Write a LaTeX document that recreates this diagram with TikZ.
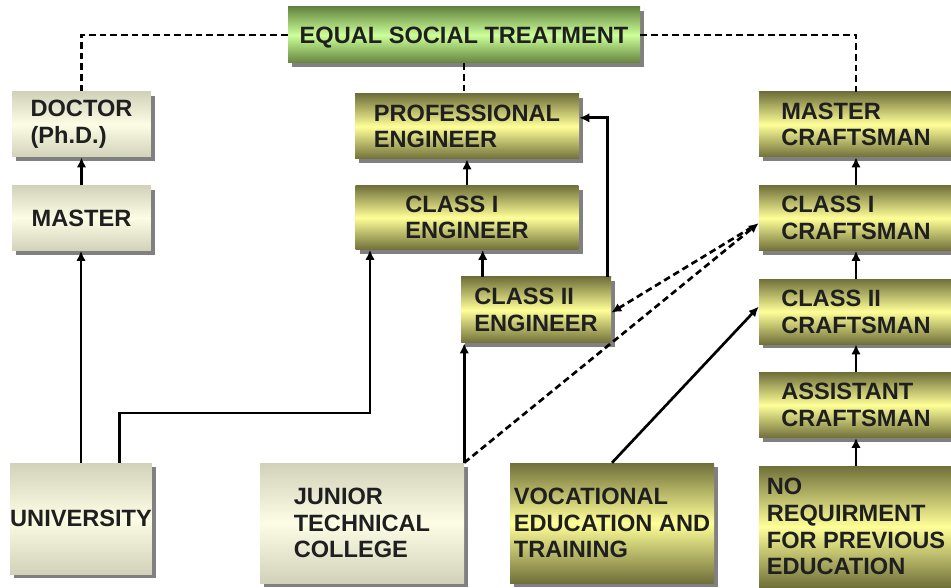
\documentclass[tikz,border=0pt]{standalone}
\usepackage{fontspec}
\setmainfont{Liberation Sans}
\usetikzlibrary{shadows,positioning,arrows.meta}
\definecolor{beigedark}{RGB}{210,209,186}
\definecolor{beigelight}{RGB}{253,253,230}
\definecolor{olivedark}{RGB}{112,112,58}
\definecolor{olivelight}{RGB}{255,255,152}
\definecolor{greendark}{RGB}{100,132,62}
\definecolor{greenlight}{RGB}{204,255,153}
\tikzstyle{block}=[inner xsep=2pt, align=left, text=black!88, font=\fontsize{17.7}{20}\selectfont\bfseries, drop shadow={shadow xshift=3.2pt,shadow yshift=-3.2pt,fill=black!50,opacity=1}]
\tikzstyle{plainbox}=[block, top color=beigedark, bottom color=beigedark, middle color=beigelight]
\tikzstyle{olivebox}=[block, top color=olivedark, bottom color=olivedark, middle color=olivelight]
\tikzstyle{greenbox}=[block, top color=greendark, bottom color=greendark, middle color=greenlight]
\tikzstyle{arrow}=[line width=2pt,-{Latex[length=7.5pt,width=7pt]}]
\tikzstyle{dashline}=[line width=2pt,dash pattern=on 5pt off 3pt]

\begin{document}
\begin{tikzpicture}[x=0.75pt,y=-0.75pt,node distance=21pt]
    \useasboundingbox (0,0) rectangle (951,588);
    % top
    \node (eq) [greenbox,minimum width=264pt,minimum height=42pt,text depth=1pt] at (464,35) {\raisebox{-2pt}{EQUAL SOCIAL TREATMENT}};
    % academic column
    \node (doctor) [plainbox,minimum width=104pt,minimum height=48.75pt] at (81.5,124.5) {DOCTOR\\(Ph.D.)};
    \node (master) [plainbox,minimum width=104pt,minimum height=48.75pt,below=of doctor] {MASTER};
    \node (univ) [plainbox,inner xsep=0pt,minimum width=105pt,minimum height=83.25pt] at (81,518.5) {UNIVERSITY};
    % engineer column
    \node (prof) [olivebox,minimum width=168pt,minimum height=48.75pt] at (467,126.5) {PROFESSIONAL\\ENGINEER};
    \node (cls1eng) [olivebox,minimum width=167pt,minimum height=48pt,below=19.5pt of prof] {CLASS I\\ENGINEER};
    \node (cls2eng) [olivebox,minimum width=112.5pt,minimum height=49.5pt] at (536,310) {CLASS II\\ENGINEER};
    \node (junior) [plainbox,minimum width=153pt,minimum height=90pt] at (362,523) {JUNIOR\\TECHNICAL\\COLLEGE};
    \node (voc) [olivebox,inner xsep=0pt,minimum width=153pt,minimum height=90pt] at (612,523) {VOCATIONAL\\EDUCATION AND\\TRAINING};
    % craftsman column
    \node (mcraft) [olivebox,minimum width=145.5pt,minimum height=48.75pt] at (856,124.5) {MASTER\\CRAFTSMAN};
    \node (cls1craft) [olivebox,minimum width=145.5pt,minimum height=48.75pt,below=of mcraft] {CLASS I\\CRAFTSMAN};
    \node (cls2craft) [olivebox,minimum width=145.5pt,minimum height=48.75pt,below=of cls1craft] {CLASS II\\CRAFTSMAN};
    \node (asst) [olivebox,minimum width=145.5pt,minimum height=48.75pt,below=of cls2craft] {ASSISTANT\\CRAFTSMAN};
    \node (noreq) [olivebox,minimum width=145.5pt,minimum height=90.75pt,below=of asst] {NO\\REQUIRMENT\\FOR PREVIOUS\\EDUCATION};
    \coordinate (ubend) at (370,413);
    % links
    \draw[dashline] (eq.west) -| (doctor.north);
    \draw[dashline] (eq.east) -| (mcraft.north);
    \draw[dashline] (eq.south) -- (eq.south |- prof.north);
    \draw[arrow] (master) -- (doctor);
    \draw[arrow] (univ.north) -- (univ.north |- master.south);
    \draw[arrow] ([xshift=29pt]univ.north) |- (ubend) -- (ubend |- cls1eng.south);
    \draw[arrow] (cls1eng.north) -- (cls1eng.north |- prof.south);
    \draw[arrow] ([xshift=16.5pt]cls2eng.north west) -- ([xshift=16.5pt]cls2eng.north west |- cls1eng.south);
    \draw[arrow] ([xshift=-3pt]cls2eng.north east) |- ([yshift=6.5pt]prof.east);
    \draw[arrow] (junior.north east) -- (junior.north east |- cls2eng.south);
    \draw[arrow,dashline] (junior.north east) -- ([yshift=-3.75pt]cls1craft.west);
    \draw[arrow,dashline,shorten <=6pt] ([yshift=-3.75pt]cls1craft.west) -- ([yshift=-2pt]cls2eng.east);
    \draw[arrow] (voc.north) -- ([yshift=3.75pt]cls2craft.west);
    \foreach \a/\b in {cls1craft/mcraft,cls2craft/cls1craft,asst/cls2craft,noreq/asst}
        \draw[arrow] (\a) -- (\b);
\end{tikzpicture}
\end{document}
